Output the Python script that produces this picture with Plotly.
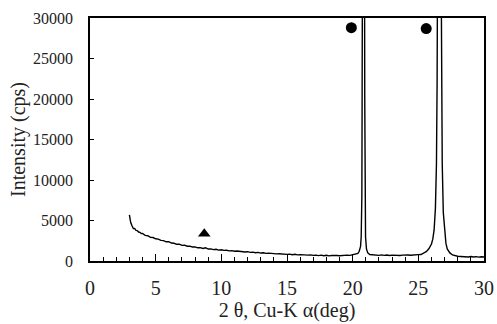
import plotly.graph_objects as go

two_theta = [3.0, 3.05, 3.1, 3.2, 3.3, 3.4, 3.5, 3.6, 3.7, 3.8, 3.9, 4.0, 4.2, 4.4, 4.6, 4.8,
             5.0, 5.2, 5.4, 5.6, 5.8, 6.0, 6.2, 6.4, 6.6, 6.8, 7.0, 7.2, 7.4, 7.6, 7.8,
             8.0, 8.2, 8.4, 8.6, 8.8, 9.0, 9.2, 9.4, 9.6, 9.8, 10.0, 10.2, 10.4, 10.6, 10.8,
             11.0, 11.2, 11.4, 11.6, 11.8, 12.0, 12.2, 12.4, 12.6, 12.8, 13.0, 13.2, 13.4,
             13.6, 13.8, 14.0, 14.2, 14.4, 14.6, 14.8, 15.0, 15.2, 15.4, 15.6, 15.8, 16.0,
             16.2, 16.4, 16.6, 16.8, 17.0, 17.2, 17.4, 17.6, 17.8, 18.0, 18.2, 18.4, 18.6,
             18.8, 19.0, 19.2, 19.4, 19.6, 19.8, 20.0, 20.2, 20.3, 20.4, 20.5, 20.6, 20.65,
             20.7, 20.72, 20.74, 20.82, 20.9, 20.92, 20.94, 20.98, 21.05, 21.15, 21.3, 21.4,
             21.6, 21.8, 22.0, 22.2, 22.4, 22.6, 22.8, 23.0, 23.2, 23.4, 23.6, 23.8, 24.0,
             24.2, 24.4, 24.6, 24.8, 25.0, 25.2, 25.4, 25.6, 25.8, 26.0, 26.1, 26.2, 26.3,
             26.38, 26.43, 26.46, 26.6, 26.74, 26.77, 26.82, 26.9, 27.0, 27.1, 27.2, 27.4,
             27.6, 27.8, 28.0, 28.2, 28.4, 28.6, 28.8, 29.0, 29.2, 29.4, 29.6, 29.8, 30.0]
intensity = [5700, 5150, 4750, 4350, 4000, 4020, 3780, 3760, 3580, 3540, 3380, 3400, 3160, 3120, 2920, 2900,
             2740, 2700, 2540, 2520, 2370, 2380, 2220, 2190, 2060, 2080, 1930, 1960, 1820, 1840, 1730,
             1740, 1630, 1650, 1540, 1640, 1480, 1500, 1410, 1450, 1350, 1390, 1310, 1330, 1250, 1280,
             1200, 1230, 1160, 1180, 1110, 1150, 1070, 1090, 1020, 1060, 980, 1010, 940,
             970, 910, 940, 880, 900, 850, 880, 820, 850, 780, 830, 760, 790,
             740, 770, 720, 760, 690, 730, 670, 720, 650, 700, 640, 680, 630,
             670, 640, 690, 660, 720, 700, 790, 900, 850, 950, 1200, 1800, 3000,
             8000, 20000, 40000, 90000, 40000, 20000, 8000, 3000, 1500, 1000, 800, 780,
             720, 760, 700, 750, 690, 740, 680, 730, 690, 720, 680, 730, 690,
             740, 710, 760, 730, 790, 800, 950, 1150, 1500, 2100, 2700, 3800, 6500,
             12000, 22000, 35000, 100000, 35000, 22000, 12000, 6000, 3500, 2200, 1500, 1000,
             750, 650, 580, 560, 520, 570, 500, 550, 490, 540, 480, 530, 500]

circle_x = [19.9, 25.6]
circle_y = [28800, 28700]
triangle_x = [8.7]
triangle_y = [3350]

x_tick_vals = [0, 5, 10, 15, 20, 25, 30]
x_tick_text = ["0", "5", "10", "15", "20", "25", "30"]
y_tick_vals = [0, 5000, 10000, 15000, 20000, 25000, 30000]
y_tick_text = ["0", "5000", "10000", "15000", "20000", "25000", "30000"]

fig = go.Figure()
fig.add_trace(go.Scatter(x=two_theta, y=intensity, mode="lines",
                         line=dict(color="black", width=1.4), showlegend=False))
fig.add_trace(go.Scatter(x=circle_x, y=circle_y, mode="markers",
                         marker=dict(symbol="circle", size=11, color="black"), showlegend=False))
fig.add_trace(go.Scatter(x=triangle_x, y=triangle_y, mode="markers",
                         marker=dict(symbol="triangle-up", size=11, color="black"), showlegend=False))

font = "Liberation Serif"
fig.update_layout(
    width=497, height=324,
    margin=dict(l=90, r=13, t=18, b=63, autoexpand=False),
    plot_bgcolor="white", paper_bgcolor="white",
    font=dict(family=font, color="#222"),
    xaxis=dict(range=[0, 30], tickvals=x_tick_vals, ticktext=x_tick_text, ticks="inside", ticklen=7,
               tickcolor="black", showgrid=False, zeroline=False, automargin=False,
               showline=True, linecolor="black", linewidth=1.5, mirror=True,
               tickfont=dict(size=20, family=font), ticklabelstandoff=8,
               minor=dict(dtick=1, ticks="inside", ticklen=4, tickcolor="black", showgrid=False),
               title=dict(text="2 θ, Cu-K α(deg)", font=dict(size=20, family=font), standoff=3)),
    yaxis=dict(range=[0, 30000], tickvals=y_tick_vals, ticktext=y_tick_text, ticks="inside", ticklen=4,
               tickcolor="black", showgrid=False, zeroline=False, automargin=False,
               showline=True, linecolor="black", linewidth=1.5, mirror=True,
               tickfont=dict(size=16, family=font), ticklabelstandoff=12,
               title=dict(text="Intensity (cps)", font=dict(size=20, family=font), standoff=2)),
)
fig.write_html("out.html", config={"displayModeBar": False},
               post_script="document.body.style.margin='0';")
